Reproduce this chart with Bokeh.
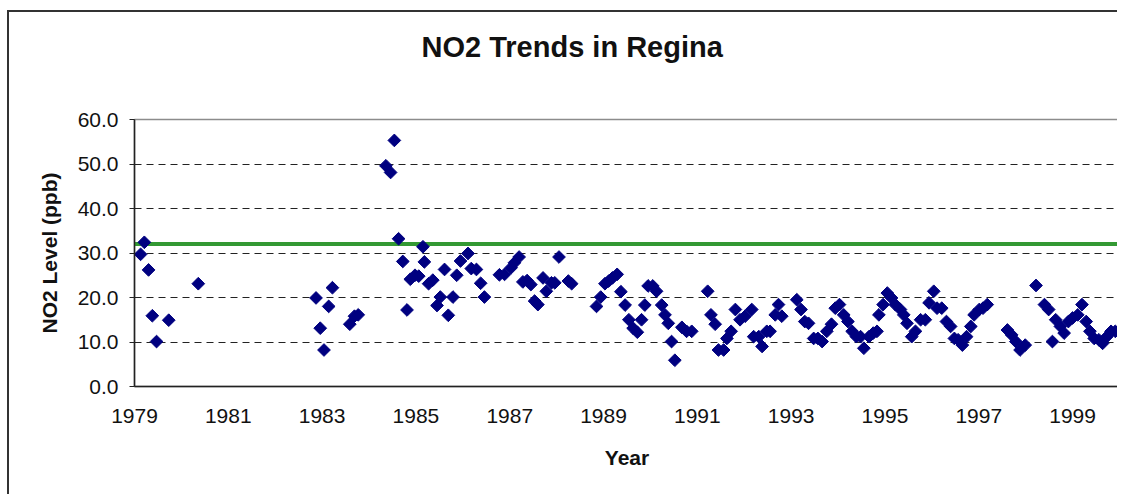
import numpy as np
from bokeh.plotting import figure
from bokeh.models import Range1d, Span, Title, NumeralTickFormatter
from bokeh.embed import file_html
from bokeh.resources import INLINE

# ---- data ----
years = [
    1979.13, 1979.21, 1979.30, 1979.38, 1979.47, 1979.73, 1980.36,
    1982.87, 1982.96, 1983.04, 1983.14, 1983.22, 1983.59, 1983.69, 1983.77,
    1984.36, 1984.46, 1984.54, 1984.63, 1984.72, 1984.81, 1984.88, 1984.98,
    1985.06, 1985.15, 1985.18, 1985.27, 1985.36, 1985.45, 1985.52, 1985.61,
    1985.69, 1985.79, 1985.87, 1985.95, 1986.11, 1986.18, 1986.29, 1986.38,
    1986.46, 1986.78, 1986.89, 1987.03, 1987.10, 1987.20, 1987.28, 1987.37,
    1987.45, 1987.53, 1987.60, 1987.71, 1987.78, 1987.89, 1987.96, 1988.05,
    1988.25, 1988.32,
    1988.85, 1988.94, 1989.03, 1989.11, 1989.19, 1989.29, 1989.37, 1989.46,
    1989.54, 1989.63, 1989.72, 1989.81, 1989.88, 1989.95, 1990.05, 1990.13,
    1990.24, 1990.31, 1990.38, 1990.45, 1990.52, 1990.67, 1990.77, 1990.88,
    1991.22, 1991.29, 1991.38, 1991.45, 1991.56, 1991.63, 1991.72, 1991.81,
    1991.91, 1992.02, 1992.16, 1992.20, 1992.31, 1992.38, 1992.48, 1992.55,
    1992.66, 1992.73, 1992.80,
    1993.12, 1993.21, 1993.29, 1993.37, 1993.48, 1993.57, 1993.66, 1993.76,
    1993.86, 1993.94, 1994.03, 1994.12, 1994.21, 1994.30, 1994.39, 1994.48,
    1994.55, 1994.66, 1994.75, 1994.83, 1994.87, 1994.96, 1995.05, 1995.14,
    1995.22, 1995.33, 1995.40, 1995.47, 1995.57, 1995.65, 1995.76, 1995.86,
    1995.94, 1996.04, 1996.11, 1996.21, 1996.31, 1996.40, 1996.48, 1996.56,
    1996.65, 1996.74, 1996.83, 1996.90, 1997.01, 1997.09, 1997.18,
    1997.61, 1997.70, 1997.79, 1997.88, 1997.99,
    1998.22, 1998.40, 1998.49, 1998.57, 1998.64, 1998.74, 1998.82, 1998.91,
    1999.00, 1999.11, 1999.20, 1999.29, 1999.37, 1999.46, 1999.56, 1999.64,
    1999.73, 1999.82, 1999.91, 1999.97,
]
no2_ppb = [
    29.7, 32.4, 26.2, 15.9, 10.1, 14.9, 23.1,
    19.9, 13.1, 8.2, 18.0, 22.2, 14.0, 15.8, 16.1,
    49.6, 48.1, 55.3, 33.2, 28.1, 17.2, 24.1, 25.0,
    24.8, 31.4, 28.0, 23.1, 23.9, 18.2, 20.1, 26.3,
    16.0, 20.1, 25.0, 28.2, 29.9, 26.5, 26.3, 23.2,
    20.1, 25.1, 25.2, 26.7, 27.8, 29.1, 23.5, 23.8,
    22.9, 19.2, 18.4, 24.4, 21.4, 23.3, 23.3, 29.1,
    23.7, 23.1,
    18.0, 20.1, 23.1, 23.7, 24.4, 25.2, 21.3, 18.3,
    15.0, 13.1, 12.2, 15.0, 18.3, 22.6, 22.6, 21.4,
    18.3, 16.1, 14.2, 10.1, 5.9, 13.3, 12.4, 12.4,
    21.4, 16.1, 14.0, 8.2, 8.2, 10.8, 12.4, 17.3,
    15.0, 15.8, 17.3, 11.2, 11.2, 9.0, 12.4, 12.4,
    16.1, 18.4, 15.8,
    19.5, 17.3, 14.6, 14.2, 10.8, 10.8, 10.1, 12.4,
    14.0, 17.6, 18.4, 16.1, 14.6, 12.4, 11.2, 11.2,
    8.6, 11.2, 12.0, 12.4, 16.1, 18.4, 21.0, 19.9,
    18.4, 17.3, 16.1, 14.2, 11.2, 12.4, 15.0, 15.0,
    18.8, 21.4, 17.6, 17.6, 14.6, 13.5, 10.8, 10.5,
    9.3, 11.2, 13.5, 16.1, 17.3, 17.6, 18.4,
    12.7, 11.6, 10.1, 8.2, 9.3,
    22.7, 18.4, 17.3, 10.1, 15.0, 13.5, 12.0, 14.6,
    15.4, 16.1, 18.4, 14.6, 12.4, 10.8, 10.5, 9.7,
    11.2, 12.4, 12.4, 12.4,
]
objective_ppb = 32.0
x_ticks = [1979, 1981, 1983, 1985, 1987, 1989, 1991, 1993, 1995, 1997, 1999]
y_ticks = [0, 10, 20, 30, 40, 50, 60]
grid_levels = [10, 20, 30, 40, 50]
chart_title = "NO2 Trends in Regina"

FONT = "Liberation Sans"

p = figure(
    width=1110, height=484,
    x_range=Range1d(1979, 2000), y_range=Range1d(0, 60),
    output_backend="svg", toolbar_location=None,
    title=chart_title,
    min_border_left=125, min_border_right=0,
    min_border_top=107, min_border_bottom=110,
    background_fill_color="white", border_fill_color="white",
)
p.styles = {
    "border-top": "2px solid #333333",
    "border-left": "2px solid #333333",
    "margin-left": "7px",
    "margin-top": "10px",
}

# title: left-aligned with an offset so it sits centred over the chart box
p.title.align = "left"
p.title.offset = 287
p.title.standoff = 10
p.title.text_font = FONT
p.title.text_font_style = "bold"
p.title.text_font_size = "29px"
p.title.text_color = "#111111"

# empty spacer between the title and the plot frame
spacer = Title(text=" ", text_font_size="10px", standoff=39)
p.add_layout(spacer, "above")

p.outline_line_color = "#8c8c8c"
p.outline_line_width = 1.5

# grid
p.xgrid.visible = False
p.ygrid.ticker = grid_levels
p.ygrid.grid_line_color = "#222222"
p.ygrid.grid_line_dash = "7 5"
p.ygrid.grid_line_width = 1

# objective line
span = Span(location=objective_ppb, dimension="width",
            line_color="#339933", line_width=4, level="underlay")
p.add_layout(span)

p.scatter(years, no2_ppb, marker="square", angle=np.pi / 4, size=9,
          fill_color="#000080", line_color="#000080")

# axes
for ax in (p.xaxis[0], p.yaxis[0]):
    ax.axis_line_color = "#222222"
    ax.axis_line_width = 1.5
    ax.major_label_text_font = FONT
    ax.major_label_text_font_size = "21px"
    ax.major_label_text_color = "#111111"
    ax.axis_label_text_font = FONT
    ax.axis_label_text_font_style = "bold"
    ax.axis_label_text_font_size = "21px"
    ax.axis_label_text_color = "#111111"
    ax.minor_tick_line_color = None

p.xaxis.ticker = x_ticks
p.xaxis.major_tick_line_color = None
p.xaxis.major_label_standoff = 16
p.xaxis.axis_label = "Year"
p.xaxis.axis_label_standoff = 20

p.yaxis.ticker = y_ticks
p.yaxis.formatter = NumeralTickFormatter(format="0.0")
p.yaxis.major_tick_out = 5
p.yaxis.major_tick_in = 0
p.yaxis.major_tick_line_color = "#222222"
p.yaxis.major_label_standoff = 11
p.yaxis.axis_label = "NO2 Level (ppb)"
p.yaxis.axis_label_standoff = 14

open("out.html", "w").write(file_html(p, INLINE))
